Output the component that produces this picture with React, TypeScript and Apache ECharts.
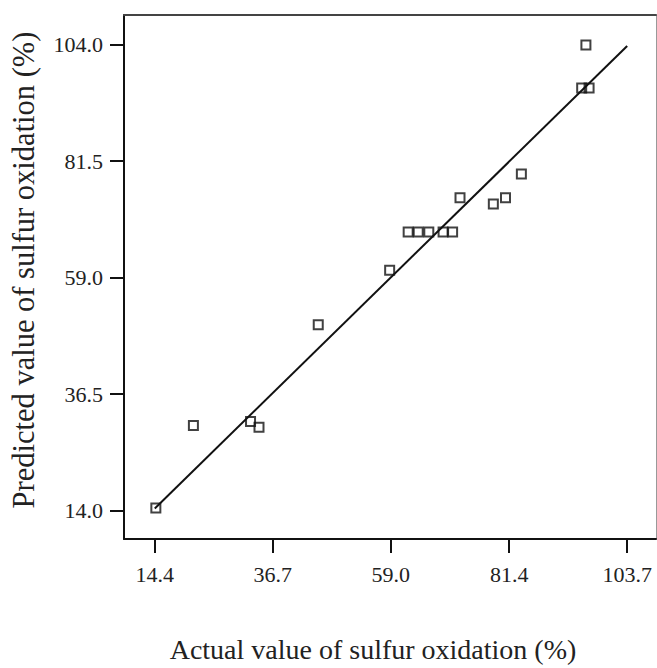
import React, { useEffect, useRef } from "react";
import * as echarts from "echarts";

const actualValues = [95.9, 95.1, 96.5, 83.7, 80.7, 78.4, 72.1, 62.3, 64.2, 66.2, 68.9, 70.7, 58.8, 45.3, 21.7, 32.5, 34.1, 14.6];
const predictedValues = [103.9, 95.6, 95.6, 79.0, 74.4, 73.2, 74.4, 67.8, 67.8, 67.8, 67.8, 67.8, 60.4, 49.9, 30.4, 31.2, 30.1, 14.5];
const xTickValues = [14.4, 36.7, 59.0, 81.4, 103.7];
const yTickValues = [14.0, 36.5, 59.0, 81.5, 104.0];
const fitLineX = [14.4, 103.7];
const fitLineY = [14.4, 103.7];

const X_MIN = 8.58;
const X_MAX = 109.15;
const Y_MIN = 8.5;
const Y_MAX = 109.7;

const FONT = "Liberation Serif";

export default function App() {
  const ref = useRef<HTMLDivElement>(null);
  useEffect(() => {
    if (!ref.current) return;
    const chart = echarts.init(ref.current, undefined, { renderer: "svg" });
    const points = actualValues.map((x, i) => [x, predictedValues[i]]);
    const line = fitLineX.map((x, i) => [x, fitLineY[i]]);
    const labelStyle = { fontFamily: FONT, fontSize: 22, color: "#222" };
    chart.setOption({
      animation: false,
      backgroundColor: "#ffffff",
      grid: { left: 121, top: 15, width: 535, height: 534, containLabel: false },
      xAxis: [
        {
          type: "value",
          min: X_MIN,
          max: X_MAX,
          position: "bottom",
          splitLine: { show: false },
          axisLine: { show: true, onZero: false, lineStyle: { color: "#111", width: 2 } },
          axisTick: { show: true, inside: false, length: 14, customValues: xTickValues, lineStyle: { color: "#111", width: 2 } },
          axisLabel: {
            show: true,
            customValues: xTickValues,
            margin: 24,
            formatter: (v: number) => v.toFixed(1),
            ...labelStyle,
          },
          name: "Actual value of sulfur oxidation (%)",
          nameLocation: "middle",
          nameGap: 96,
          nameTextStyle: { fontFamily: FONT, fontSize: 28, color: "#222", padding: [0, 34, 0, 0] },
        },
        {
          type: "value",
          min: X_MIN,
          max: X_MAX,
          position: "top",
          splitLine: { show: false },
          axisLine: { show: true, onZero: false, lineStyle: { color: "#444", width: 2 } },
          axisTick: { show: false },
          axisLabel: { show: false },
        },
      ],
      yAxis: [
        {
          type: "value",
          min: Y_MIN,
          max: Y_MAX,
          position: "left",
          splitLine: { show: false },
          axisLine: { show: true, onZero: false, lineStyle: { color: "#111", width: 2 } },
          axisTick: { show: true, inside: false, length: 14, customValues: yTickValues, lineStyle: { color: "#111", width: 2 } },
          axisLabel: {
            show: true,
            customValues: yTickValues,
            margin: 21,
            formatter: (v: number) => v.toFixed(1),
            ...labelStyle,
          },
          name: "Predicted value of sulfur oxidation (%)",
          nameLocation: "middle",
          nameGap: 85,
          nameRotate: 90,
          nameTextStyle: { fontFamily: FONT, fontSize: 30.5, color: "#222", padding: [0, 0, 0, 14] },
        },
        {
          type: "value",
          min: Y_MIN,
          max: Y_MAX,
          position: "right",
          splitLine: { show: false },
          axisLine: { show: true, onZero: false, lineStyle: { color: "#999", width: 1 } },
          axisTick: { show: false },
          axisLabel: { show: false },
        },
      ],
      series: [
        {
          type: "line",
          data: line,
          symbol: "none",
          lineStyle: { color: "#111", width: 2 },
          silent: true,
          z: 2,
        },
        {
          type: "scatter",
          data: points,
          symbol: "rect",
          symbolSize: 9,
          itemStyle: { color: "rgba(255,255,255,0)", borderColor: "#111", borderWidth: 2 },
          z: 3,
        },
      ],
    });
    return () => chart.dispose();
  }, []);
  return <div ref={ref} style={{ position: "fixed", left: 0, top: 0, width: 657, height: 668 }} />;
}
